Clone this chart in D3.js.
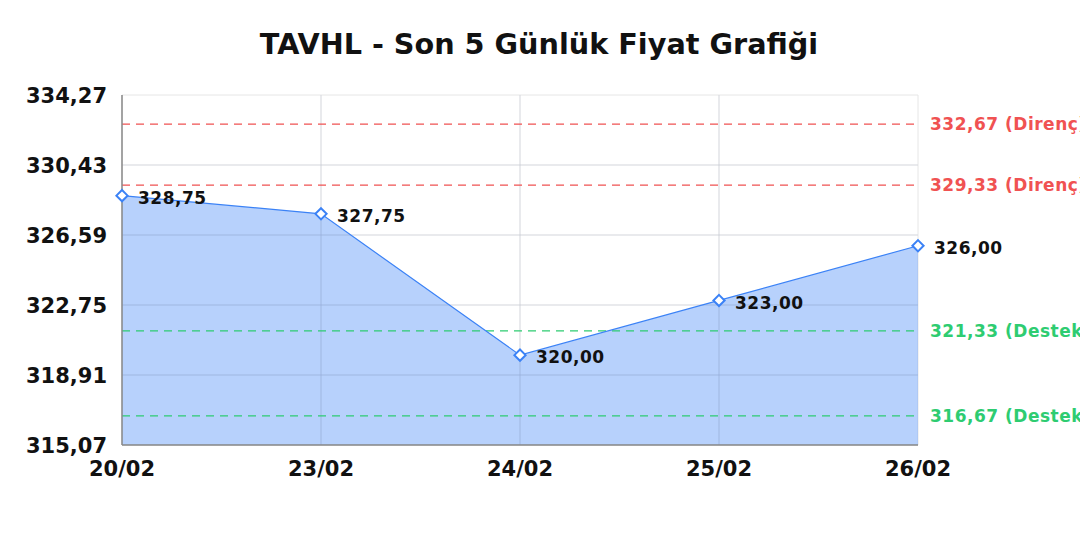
<!DOCTYPE html>
<html><head><meta charset="utf-8">
<script src="https://cdn.jsdelivr.net/npm/d3@7"></script>
<style>body{margin:0;background:#fff}svg{display:block;font-family:"DejaVu Sans",sans-serif}</style>
</head><body><svg id="c" width="1080" height="540"></svg>
<script>
const title = "TAVHL - Son 5 Günlük Fiyat Grafiği";
const categories = ["20/02","23/02","24/02","25/02","26/02"];
const prices = [328.75, 327.75, 320.00, 323.00, 326.00];
const yTicks = [315.07, 318.91, 322.75, 326.59, 330.43, 334.27];
const levelValues = [332.67, 329.33, 321.33, 316.67];
const levelNames = ["Direnç","Direnç","Destek","Destek"];
const levelColors = ["#f05252","#f05252","#2ecc71","#2ecc71"];

const fmt = v => v.toFixed(2).replace(".", ",");
const svg = d3.select("#c");
const L = 122, R = 918, T = 95, B = 445;
const x = d3.scalePoint().domain(categories).range([L, R]);
const y = d3.scaleLinear().domain([yTicks[0], yTicks[yTicks.length-1]]).range([B, T]);

// grid
svg.append("g").selectAll("line").data(yTicks).join("line")
  .attr("x1", L).attr("x2", R).attr("y1", d=>y(d)).attr("y2", d=>y(d))
  .attr("stroke", "#e6e6e6").attr("stroke-width", 1);
svg.append("g").selectAll("line").data(categories).join("line")
  .attr("x1", d=>x(d)).attr("x2", d=>x(d)).attr("y1", T).attr("y2", B)
  .attr("stroke", "#e6e6e6").attr("stroke-width", 1);

const data = categories.map((c,i)=>({c, v: prices[i]}));
// area
svg.append("path").datum(data)
  .attr("d", d3.area().x(d=>x(d.c)).y0(B).y1(d=>y(d.v)))
  .attr("fill", "rgba(59,130,246,0.37)");
svg.append("g").selectAll("line").data(yTicks.slice(1,-1)).join("line")
  .attr("x1", L).attr("x2", R).attr("y1", d=>y(d)).attr("y2", d=>y(d))
  .attr("stroke", "rgba(120,140,180,0.15)");
svg.append("g").selectAll("line").data(categories.slice(1,-1)).join("line")
  .attr("x1", d=>x(d)).attr("x2", d=>x(d)).attr("y1", T).attr("y2", B)
  .attr("stroke", "rgba(120,140,180,0.15)");

// levels
const lv = levelValues.map((v,i)=>({v, n: levelNames[i], col: levelColors[i]}));
svg.append("g").selectAll("line").data(lv).join("line")
  .attr("x1", L).attr("x2", R).attr("y1", d=>y(d.v)).attr("y2", d=>y(d.v))
  .attr("stroke", d=>d.col).attr("stroke-width", 1.3).attr("stroke-dasharray", "8,6");
svg.append("g").selectAll("text").data(lv).join("text")
  .attr("x", 930).attr("y", d=>y(d.v)).attr("dy", "0.36em")
  .attr("fill", d=>d.col).attr("font-size", 17).attr("font-weight", "bold")
  .attr("letter-spacing", 0.5)
  .text(d=>fmt(d.v)+" ("+d.n+")");

// axes
svg.append("line").attr("x1", L).attr("x2", L).attr("y1", T).attr("y2", B).attr("stroke", "#888").attr("stroke-width", 1.5);
svg.append("line").attr("x1", L).attr("x2", R).attr("y1", B).attr("y2", B).attr("stroke", "#888").attr("stroke-width", 1.5);

// line
svg.append("path").datum(data)
  .attr("d", d3.line().x(d=>x(d.c)).y(d=>y(d.v)))
  .attr("fill", "none").attr("stroke", "#3b82f6").attr("stroke-width", 1.2);
// markers
svg.append("g").selectAll("path").data(data).join("path")
  .attr("d", d3.symbol(d3.symbolDiamond2, 80))
  .attr("transform", d=>`translate(${x(d.c)},${y(d.v)})`)
  .attr("fill", "#fff").attr("stroke", "#3b82f6").attr("stroke-width", 2);
// data labels
svg.append("g").selectAll("text").data(data).join("text")
  .attr("x", d=>x(d.c)+16).attr("y", d=>y(d.v)+2).attr("dy", "0.36em")
  .attr("font-size", 17).attr("font-weight", "bold").attr("fill", "#111")
  .attr("letter-spacing", 0.5)
  .text(d=>fmt(d.v));

// y ticks
svg.append("g").selectAll("text").data(yTicks).join("text")
  .attr("x", 107).attr("y", d=>y(d)).attr("dy", "0.36em").attr("text-anchor", "end")
  .attr("font-size", 21).attr("font-weight", "bold").attr("fill", "#111")
  .text(fmt);
// x ticks
svg.append("g").selectAll("text").data(categories).join("text")
  .attr("x", d=>x(d)).attr("y", 468).attr("dy", "0.36em").attr("text-anchor", "middle")
  .attr("font-size", 21).attr("font-weight", "bold").attr("fill", "#111")
  .text(d=>d);
// title
svg.append("text").attr("x", 539).attr("y", 44).attr("dy", "0.36em").attr("text-anchor", "middle")
  .attr("font-size", 28.7).attr("font-weight", "bold").attr("fill", "#111").text(title);
</script></body></html>
